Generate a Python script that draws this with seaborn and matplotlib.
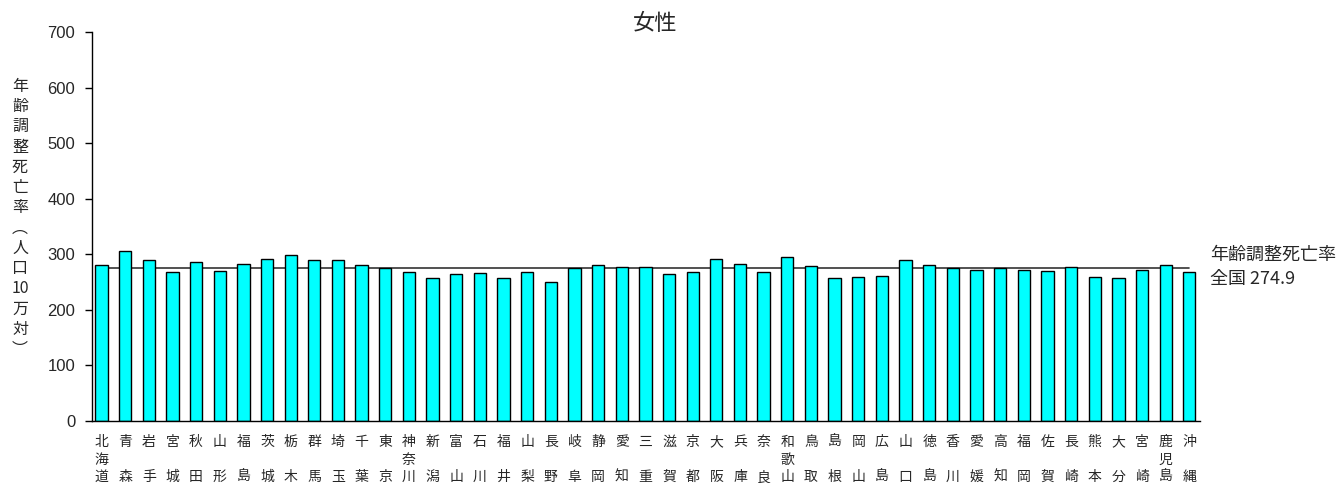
import matplotlib
matplotlib.use("Agg")
import matplotlib.pyplot as plt
import seaborn as sns
import pandas as pd

prefectures = ["北海道", "青森", "岩手", "宮城", "秋田", "山形", "福島", "茨城", "栃木", "群馬",
               "埼玉", "千葉", "東京", "神奈川", "新潟", "富山", "石川", "福井", "山梨", "長野",
               "岐阜", "静岡", "愛知", "三重", "滋賀", "京都", "大阪", "兵庫", "奈良", "和歌山",
               "鳥取", "島根", "岡山", "広島", "山口", "徳島", "香川", "愛媛", "高知", "福岡",
               "佐賀", "長崎", "熊本", "大分", "宮崎", "鹿児島", "沖縄"]
rates = [280.4, 305.4, 289.5, 268.8, 285.3, 270.6, 282.8, 292.0, 299.3, 289.5,
         289.5, 280.4, 275.5, 268.8, 257.2, 264.5, 267.0, 257.2, 268.8, 250.5,
         275.5, 280.4, 278.0, 277.9, 264.5, 268.8, 292.0, 283.4, 268.8, 295.6,
         279.8, 256.6, 259.0, 260.9, 288.9, 280.4, 274.9, 272.5, 274.9, 272.5,
         270.0, 277.9, 259.0, 256.6, 272.5, 280.4, 268.8]
national = 274.9
y_ticks = [0, 100, 200, 300, 400, 500, 600, 700]
title = "女性"
ylabel_chars = ["年", "齢", "調", "整", "死", "亡", "率", "︵", "人", "口", "10", "万", "対", "︶"]
note_lines = ["年齢調整死亡率", "全国 274.9"]

sns.set_theme(style="white")
plt.rcParams['font.family'] = ['Noto Sans CJK JP', 'DejaVu Sans']

def vertical_label(name):
    chars = list(name)
    if len(chars) == 2:
        chars = [chars[0], "　", chars[1]]
    return "\n".join(chars)

df = pd.DataFrame({"pref": prefectures, "rate": rates})

fig = plt.figure(figsize=(13.43, 4.83), dpi=100)
ax = fig.add_axes([0.0685, 0.1284, 0.825, 0.8053])

sns.barplot(data=df, x="pref", y="rate", color="#00FFFF", saturation=1,
            edgecolor="black", linewidth=1.0, width=0.52, ax=ax, zorder=2)
ax.plot([0, len(prefectures) - 1], [national, national], color="#333333",
        linewidth=1.2, zorder=1)

ax.set_ylim(0, 700)
ax.set_xlim(-0.4, len(prefectures) - 1 + 0.45)
ax.set_yticks(y_ticks)
ax.set_yticklabels([str(t) for t in y_ticks], fontsize=12,
                   family=['Liberation Sans', 'DejaVu Sans'])
ax.set_xticks(range(len(prefectures)))
ax.set_xticklabels([vertical_label(p) for p in prefectures], fontsize=10,
                   linespacing=1.33, va="top")
ax.tick_params(axis="x", length=0, pad=10)
ax.tick_params(axis="y", length=5, width=1, color="black", direction="out", left=True, pad=7)
ax.set_xlabel("")
ax.set_ylabel("")
for s in ["top", "right"]:
    ax.spines[s].set_visible(False)
for s in ["left", "bottom"]:
    ax.spines[s].set_color("black")
    ax.spines[s].set_linewidth(1.0)

fig.text(655 / 1343, 1 - 24 / 483, title, ha="center", va="center", fontsize=16)
fig.text(20 / 1343, 1 - 218 / 483, "\n".join(ylabel_chars), ha="center", va="center",
         fontsize=11.5, linespacing=1.25)
fig.text(1210 / 1343, 1 - 255 / 483, note_lines[0], ha="left", va="center", fontsize=13)
fig.text(1210 / 1343, 1 - 279 / 483, note_lines[1], ha="left", va="center", fontsize=13)

fig.savefig("out.png", dpi=100, facecolor="white")
